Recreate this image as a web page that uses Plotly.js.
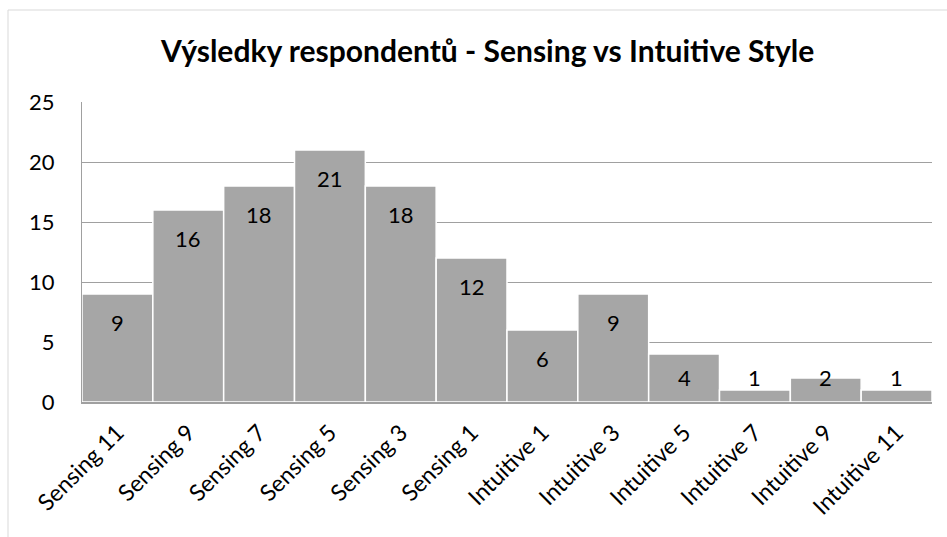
<!DOCTYPE html>
<html>
<head>
<meta charset="utf-8">
<script src="https://cdn.plot.ly/plotly-3.0.1.min.js"></script>
<style>html,body{margin:0;padding:0;background:#fff;}#chart{width:947px;height:537px;}</style>
</head>
<body>
<div id="chart"></div>
<script>
const categories = ["Sensing 11","Sensing 9","Sensing 7","Sensing 5","Sensing 3","Sensing 1","Intuitive 1","Intuitive 3","Intuitive 5","Intuitive 7","Intuitive 9","Intuitive 11"];
const counts = [9,16,18,21,18,12,6,9,4,1,2,1];
const yTicks = [0,5,10,15,20,25];
const titleText = "Výsledky respondentů - Sensing vs Intuitive Style";

const FONT = "Lato, 'Open Sans', sans-serif";

const trace = {
  type: "bar",
  x: categories,
  y: counts,
  marker: {color: "#a6a6a6", line: {color: "#ffffff", width: 1.5}},
  hoverinfo: "none"
};

// data labels: inside end, kept above the axis for short bars
const annotations = categories.map((c, i) => ({
  x: c, y: Math.max(counts[i], 4.4), xref: "x", yref: "y",
  text: String(counts[i]), showarrow: false,
  yanchor: "middle", yshift: -28,
  font: {family: FONT, size: 22, color: "#000"}
}));

const layout = {
  width: 947, height: 537,
  margin: {l: 82, r: 15, t: 102, b: 135},
  paper_bgcolor: "#fff", plot_bgcolor: "#fff",
  bargap: 0,
  showlegend: false,
  title: {text: "<b>" + titleText + "</b>", x: 0.515, xref: "container", xanchor: "center",
          y: 1 - 51/537, yref: "container", yanchor: "middle",
          font: {family: FONT, size: 30, color: "#000"}},
  xaxis: {type: "category", tickangle: -45, showgrid: false,
          showline: true, linecolor: "#a0a0a0", linewidth: 2,
          ticklabelstandoff: 6,
          tickfont: {family: FONT, size: 23, color: "#000"}, ticks: ""},
  yaxis: {range: [0, 25], tickvals: yTicks, showgrid: true, gridcolor: "#a0a0a0", gridwidth: 1,
          zeroline: false, showline: true, linecolor: "#a0a0a0", linewidth: 1,
          ticks: "", ticklabelstandoff: 22,
          tickfont: {family: FONT, size: 22, color: "#000"}},
  annotations: annotations,
  shapes: [{type: "rect", xref: "paper", yref: "paper",
            x0: (8-82)/850, x1: 1.2, y0: -0.6, y1: (537-10-135)/300,
            line: {color: "#d9d9d9", width: 1}, layer: "below"}]
};

Plotly.newPlot("chart", [trace], layout, {staticPlot: true, displayModeBar: false});
</script>
</body>
</html>
